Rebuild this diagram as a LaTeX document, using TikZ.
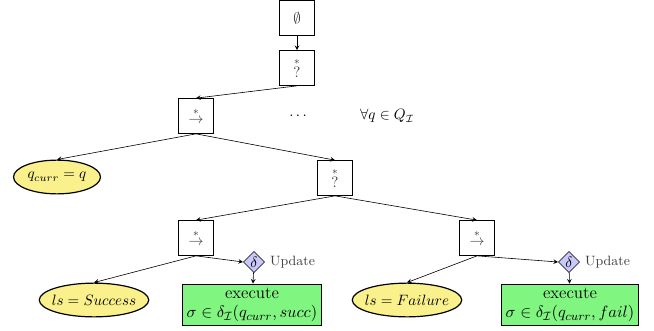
\documentclass[tikz,border=0pt]{standalone}
\usetikzlibrary{shapes.geometric}

\definecolor{leafyellow}{RGB}{250,240,140}
\definecolor{execgreen}{RGB}{128,245,128}
\definecolor{deltablue}{RGB}{200,200,250}

\tikzset{
    ctrl/.style={draw, thick, fill=white, minimum width=23pt, minimum height=23pt, inner sep=0pt, text=black!75},
    leaf/.style={draw, thick, ellipse, fill=leafyellow, inner sep=0pt, minimum height=22.5pt},
    act/.style={draw, thick, fill=execgreen, align=center, inner xsep=3pt, inner ysep=2.5pt, font=\fontsize{11.3}{13}\selectfont},
    upd/.style={draw, diamond, fill=deltablue, aspect=1, inner sep=0.6pt},
    edge/.style={->, >=stealth}
}

\begin{document}
\begin{tikzpicture}[x=0.6667pt, y=-0.6667pt]
    \useasboundingbox (0,0) rectangle (654,330);

    \node[ctrl] (root) at (297,18) {$\emptyset$};
    \node[ctrl] (sel1) at (297,68) {$\stackrel{*}{?}$};
    \node[ctrl] (seq1) at (196,116) {$\stackrel{*}{\rightarrow}$};
    \node (dots) at (298,116) {$\cdots$};
    \node (forall) at (387,116) {$\forall q \in Q_{\mathcal{I}}$};

    \node[leaf, minimum width=58pt] (qcurr) at (57,177) {\makebox[0pt]{$q_{curr} = q$}};
    \node[ctrl] (sel2) at (335,178) {$\stackrel{*}{?}$};

    % success branch
    \node[ctrl] (seq2) at (196,238) {$\stackrel{*}{\rightarrow}$};
    \node[upd] (delta1) at (254,262) {$\delta$};
    \node[right, text=black!75, font=\small] (upd1) at (delta1.east) {Update};
    \node[leaf, minimum width=73pt] (succ) at (94,300) {\makebox[0pt]{$ls = Success$}};
    \node[act] (exec1) at (252,305) {execute\\$\sigma \in \delta_{\mathcal{I}}(q_{curr}, succ)$};

    % failure branch
    \node[ctrl] (seq3) at (477,238) {$\stackrel{*}{\rightarrow}$};
    \node[upd] (delta2) at (569,262) {$\delta$};
    \node[right, text=black!75, font=\small] (upd2) at (delta2.east) {Update};
    \node[leaf, minimum width=73pt] (fail) at (407,300) {\makebox[0pt]{$ls = Failure$}};
    \node[act] (exec2) at (570,305) {execute\\$\sigma \in \delta_{\mathcal{I}}(q_{curr}, fail)$};

    \draw[edge] (root) -- (sel1);
    \draw[edge] (sel1.south) -- (seq1.north);
    \draw[edge] (seq1.south) -- (qcurr.north);
    \draw[edge] (seq1.south) -- (sel2.north);
    \draw[edge] (sel2.south) -- (seq2.north);
    \draw[edge] (sel2.south) -- (seq3.north);
    \draw[edge] (seq2.south) -- (succ.north);
    \draw[edge] (seq2.south) -- (delta1.west);
    \draw[edge] (delta1) -- (exec1);
    \draw[edge] (seq3.south) -- (fail.north);
    \draw[edge] (seq3.south) -- (delta2.west);
    \draw[edge] (delta2) -- (exec2);
\end{tikzpicture}
\end{document}
